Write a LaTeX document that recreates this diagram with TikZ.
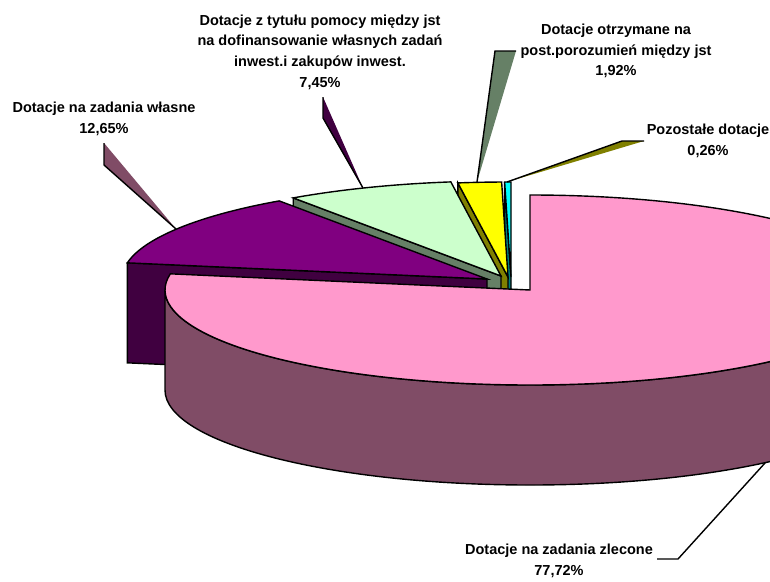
\documentclass[tikz,border=0pt]{standalone}
\usepackage{fontspec}
\setmainfont{Liberation Sans}
\usetikzlibrary{calc}
\definecolor{pinkTop}{HTML}{FF99CC}
\definecolor{pinkSide}{HTML}{804C66}
\definecolor{purTop}{HTML}{800080}
\definecolor{purSide}{HTML}{400040}
\definecolor{grnTop}{HTML}{CCFFCC}
\definecolor{grnSide}{HTML}{668066}
\definecolor{yelTop}{HTML}{FFFF00}
\definecolor{yelSide}{HTML}{808000}
\definecolor{cyaTop}{HTML}{00FFFF}
\definecolor{cyaSide}{HTML}{008080}
\begin{document}
\begin{tikzpicture}[x=1pt,y=-1pt,
  face/.style={draw=black,line width=1.4pt,line join=miter},
  lbl/.style={align=center,font=\bfseries\fontsize{14.5}{20.7}\selectfont,inner sep=0pt},
  leader/.style={draw=black,line width=1.4pt},
  er/.style={x radius=365,y radius=95}]
\useasboundingbox (0,0) rectangle (770,581);
\clip (0,0) rectangle (770,581);
% slice centres
\coordinate (P) at (530,290);
\coordinate (U) at (487,279);
\coordinate (G) at (501,276);
\coordinate (Y) at (508,277);
\coordinate (C) at (511,277);
% cyan slice
\path[face,fill=cyaSide] (C) -- ++(-91:365 and 95) -- ++(0,100) -- ($(C)+(0,100)$) -- cycle;
\path[face,fill=cyaTop] (C) -- ++(-91:365 and 95) arc[start angle=-91,end angle=-90,er] -- cycle;
% yellow slice
\path[face,fill=yelSide] (Y) -- ++(-97.9:365 and 95) -- ++(0,100) -- ($(Y)+(0,100)$) -- cycle;
\path[face,fill=yelTop] (Y) -- ++(-97.9:365 and 95) arc[start angle=-97.9,end angle=-91,er] -- cycle;
% green slice
\path[face,fill=grnSide] (G) -- ++(-124.7:365 and 95) -- ++(0,100) -- ($(G)+(0,100)$) -- cycle;
\path[face,fill=grnTop] (G) -- ++(-124.7:365 and 95) arc[start angle=-124.7,end angle=-97.9,er] -- cycle;
% purple slice
\path[face,fill=purSide] (U) -- ++(-170.2:365 and 95) -- ++(0,100) -- ($(U)+(0,100)$) -- cycle;
\path[face,fill=purTop] (U) -- ++(-170.2:365 and 95) arc[start angle=-170.2,end angle=-124.7,er] -- cycle;
% pink slice
\path[face,fill=pinkSide] ($(P)+(0:365 and 95)$) arc[start angle=0,end angle=180,er] -- ++(0,100) arc[start angle=180,end angle=0,er] -- cycle;
\path[face,fill=pinkTop] (P) -- ++(-90:365 and 95) arc[start angle=-90,end angle=189.8,er] -- cycle;
% labels
\node[lbl] (lA) at (104,119) {Dotacje na zadania własne\\12,65\%};
\node[lbl] (lB) at (320,52) {Dotacje z tytułu pomocy między jst\\na dofinansowanie własnych zadań\\inwest.i zakupów inwest.\\7,45\%};
\node[lbl] (lC) at (616,51) {Dotacje otrzymane na\\post.porozumień między jst\\1,92\%};
\node[lbl] (lD) at (708,141) {Pozostałe dotacje\\0,26\%};
\node[lbl] (lE) at (559,561) {Dotacje na zadania zlecone\\77,72\%};
% leader lines
\coordinate (a1) at (104,143); \coordinate (a2) at (104,165); \coordinate (a3) at (176,229);
\fill[pinkSide] (a1) -- (a3) -- (a2) -- cycle;
\draw[leader] (a1) -- (a2) -- (a3);
\coordinate (b1) at (323,97); \coordinate (b2) at (323,118); \coordinate (b3) at (363,188);
\fill[purSide] (b1) -- (b3) -- (b2) -- cycle;
\draw[leader] (b1) -- (b2) -- (b3);
\coordinate (c1) at (495,51); \coordinate (c2) at (516,51); \coordinate (c3) at (477,182);
\fill[grnSide] (c1) -- (c2) -- (c3) -- cycle;
\draw[leader] (c2) -- (c1) -- (c3);
\coordinate (d1) at (622,141); \coordinate (d2) at (644,141); \coordinate (d3) at (507,182);
\fill[yelSide] (d1) -- (d2) -- (d3) -- cycle;
\draw[leader] (d2) -- (d1) -- (d3);
\coordinate (e1) at (765,463); \coordinate (e2) at (678,559); \coordinate (e3) at (657,559);
\draw[leader] (e1) -- (e2) -- (e3);
\end{tikzpicture}
\end{document}
